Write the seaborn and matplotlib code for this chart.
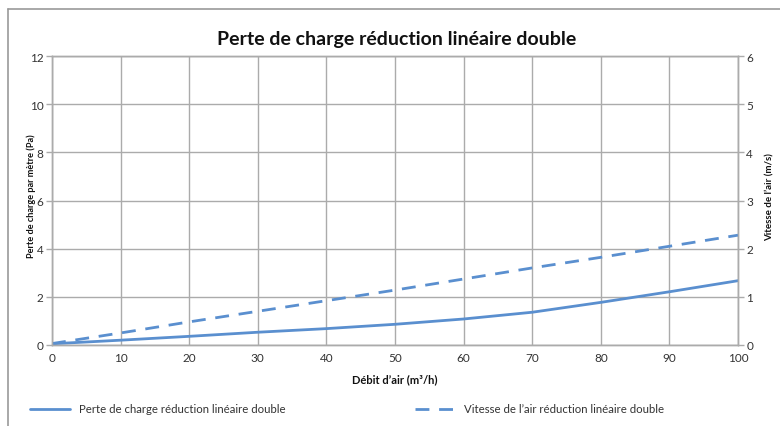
import matplotlib
matplotlib.use("Agg")
import matplotlib.pyplot as plt
import seaborn as sns
import pandas as pd
from matplotlib.lines import Line2D

debit = [0, 10, 20, 30, 40, 50, 60, 70, 80, 90, 100]
perte = [0.05, 0.2, 0.36, 0.53, 0.68, 0.86, 1.08, 1.36, 1.77, 2.21, 2.67]
vitesse = [0.03, 0.25, 0.48, 0.70, 0.92, 1.14, 1.37, 1.60, 1.82, 2.05, 2.28]

title = "Perte de charge réduction linéaire double"
xlabel = "Débit d\u2019air (m³/h)"
ylabel_left = "Perte de charge par mètre (Pa)"
ylabel_right = "Vitesse de l\u2019air (m/s)"
label_perte = "Perte de charge réduction linéaire double"
label_vitesse = "Vitesse de l\u2019air réduction linéaire double"

sns.set_theme(style="white")
plt.rcParams['font.family'] = ['Lato', 'DejaVu Sans']

color = "#5A8FCF"
grid_c = "#ABABAB"
text_c = "#333333"

df = pd.DataFrame({"debit": debit, "perte": perte, "vitesse": vitesse})

fig = plt.figure(figsize=(7.8, 4.27), dpi=100)
ax = fig.add_axes([52/780, 1-346/427, (738-52)/780, (346-57)/427])
ax2 = ax.twinx()

sns.lineplot(data=df, x="debit", y="perte", ax=ax, color=color, lw=2.0)
sns.lineplot(data=df, x="debit", y="vitesse", ax=ax2, color=color, lw=2.0,
             linestyle=(0, (5, 3.5)))

ax.set_xlim(0, 100)
ax.set_ylim(0, 12)
ax2.set_ylim(0, 6)
ax.set_xticks(range(0, 101, 10))
ax.set_yticks(range(0, 13, 2))
ax2.set_yticks(range(0, 7, 1))
ax.grid(True, color=grid_c, lw=1.0)
ax2.grid(False)
for a in (ax, ax2):
    for s in a.spines.values():
        s.set_color(grid_c)
        s.set_linewidth(1.0)
    a.tick_params(colors=text_c, labelsize=8.5, length=4, width=1.0, color=grid_c, pad=2)
ax.tick_params(axis="x", length=0, pad=5)

ax.set_xlabel(xlabel, fontsize=8, fontweight="bold", color="#111111")
ax.set_ylabel(ylabel_left, fontsize=6.6, fontweight="bold", color="#111111")
ax2.set_ylabel(ylabel_right, fontsize=7.0, fontweight="bold", color="#111111")
ax.xaxis.set_label_coords(0.5, (346-374)/289)
ax.yaxis.set_label_coords((36-52)/686, 0.52)
ax2.yaxis.set_label_coords((765-52)/686, 0.515)

fig.text(397/780, 1-39/427, title, ha="center", va="center", fontsize=14,
         fontweight="bold", color="#111111")

# legend
h1 = Line2D([], [], color=color, lw=2.0)
h2 = Line2D([], [], color=color, lw=2.0, linestyle=(0, (5, 3.5)))
fig.legend([h1], [label_perte], loc="center left", bbox_to_anchor=(20/780, 1-410/427),
           frameon=False, fontsize=8.2, handlelength=3.5, labelcolor=text_c)
fig.legend([h2], [label_vitesse], loc="center left", bbox_to_anchor=(405/780, 1-410/427),
           frameon=False, fontsize=8.2, handlelength=3.5, labelcolor=text_c)

# outer frame (top and left visible)
fig.add_artist(Line2D([8/780, 1.0], [1-10/427, 1-10/427], transform=fig.transFigure,
                      color="#999999", lw=1.2))
fig.add_artist(Line2D([8/780, 8/780], [0, 1-10/427], transform=fig.transFigure,
                      color="#999999", lw=1.2))

fig.savefig("out.png", dpi=100)
